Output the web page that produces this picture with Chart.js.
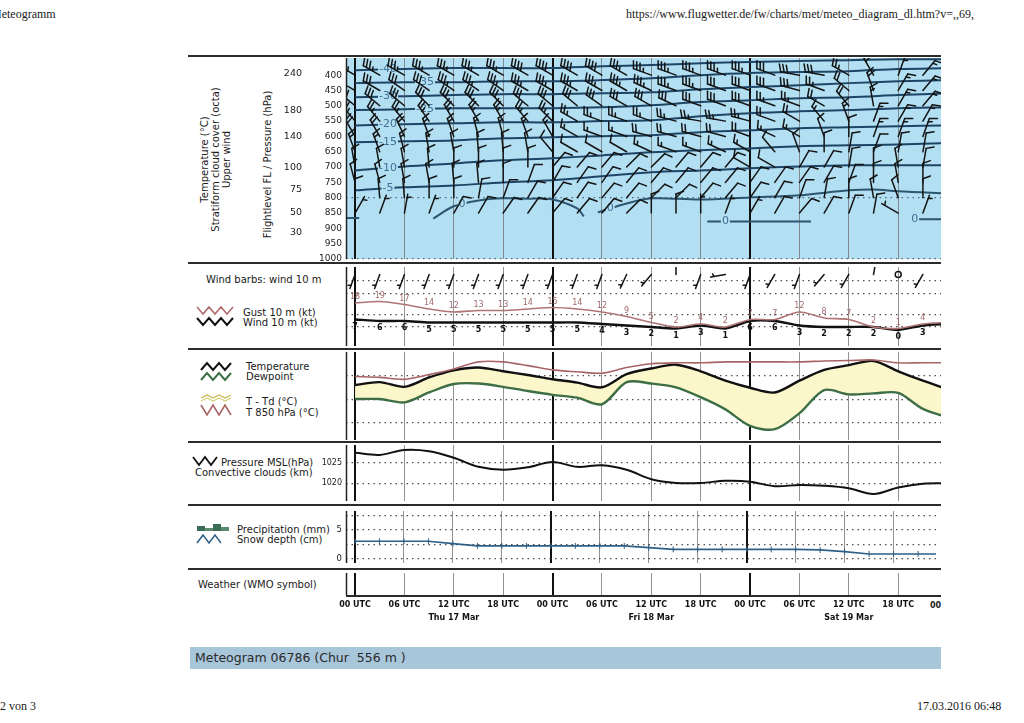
<!DOCTYPE html>
<html>
<head>
<meta charset="utf-8">
<script src="https://cdn.jsdelivr.net/npm/chart.js@4.4.1/dist/chart.umd.min.js"></script>
<style>
body{margin:0;background:#fff;font-family:"DejaVu Sans",sans-serif;color:#1a1a1a;}
#page{position:relative;width:1024px;height:723px;overflow:hidden;}
.t{position:absolute;white-space:nowrap;font-size:10px;line-height:10px;}
.serif{font-family:"Liberation Serif",serif;font-size:12px;line-height:12px;}
.sep{position:absolute;height:2px;background:#2b2b2b;}
canvas{position:absolute;}
svg{position:absolute;}
.rot{position:absolute;text-align:center;font-size:10px;line-height:11px;transform:rotate(-90deg);transform-origin:50% 50%;}
</style>
</head>
<body>
<div id="page">
  <div class="t serif" style="left:-9px;top:8px;">Meteogramm</div>
  <div class="t serif" style="left:626px;top:8px;">https://www.flugwetter.de/fw/charts/met/meteo_diagram_dl.htm?v=,,69,</div>
  <div class="t serif" style="left:0px;top:700px;">2 von 3</div>
  <div class="t serif" style="left:917px;top:700px;">17.03.2016 06:48</div>

  <div class="sep" style="left:188px;top:55px;width:753px;"></div>
  <div class="sep" style="left:188px;top:262px;width:753px;"></div>
  <div class="sep" style="left:188px;top:348px;width:753px;"></div>
  <div class="sep" style="left:188px;top:441px;width:753px;"></div>
  <div class="sep" style="left:188px;top:504px;width:753px;"></div>
  <div class="sep" style="left:188px;top:568px;width:753px;"></div>
  <div class="sep" style="left:346px;top:595px;width:595px;height:1.5px;"></div>

  <div class="rot" style="left:115px;top:143px;width:200px;height:33px;">Temperature (°C)<br>Stratiform cloud cover (octa)<br>Upper wind</div>
  <div class="rot" style="left:187px;top:159px;width:160px;height:11px;">Flightlevel FL / Pressure (hPa)</div>

  <div class="t" style="left:206px;top:275px;">Wind barbs: wind 10 m</div>
  <svg style="left:196px;top:304px" width="40" height="26">
    <polyline points="1,3 7,10 13,3 19,10 25,3 31,10 37,3" stroke="#b06868" fill="none" stroke-width="1.5"/>
    <polyline points="1,14 7,21 13,14 19,21 25,14 31,21 37,14" stroke="#111" fill="none" stroke-width="2"/>
  </svg>
  <div class="t" style="left:243px;top:308px;">Gust 10 m (kt)</div>
  <div class="t" style="left:243px;top:318px;">Wind 10 m (kt)</div>

  <svg style="left:200px;top:361px" width="34" height="58">
    <polyline points="1,9 7,2 13,9 19,2 25,9 31,2" stroke="#111" fill="none" stroke-width="2"/>
    <polyline points="1,19 7,12 13,19 19,12 25,19 31,12" stroke="#3d6e45" fill="none" stroke-width="2"/>
    <polyline points="1,37 7,34 13,37 19,34 25,37 31,34" stroke="#c9b850" fill="none" stroke-width="1.2"/>
    <polyline points="1,40 7,37 13,40 19,37 25,40 31,37" stroke="#d8cf7a" fill="none" stroke-width="1.2"/>
    <polyline points="1,44 7,54 13,44 19,54 25,44 31,54" stroke="#a86464" fill="none" stroke-width="1.6"/>
  </svg>
  <div class="t" style="left:246px;top:362px;">Temperature</div>
  <div class="t" style="left:246px;top:372px;">Dewpoint</div>
  <div class="t" style="left:246px;top:397px;">T - Td (°C)</div>
  <div class="t" style="left:246px;top:408px;">T 850 hPa (°C)</div>

  <svg style="left:192px;top:454px" width="30" height="14">
    <polyline points="1,3 7,11 13,3 19,11 25,3" stroke="#111" fill="none" stroke-width="1.8"/>
  </svg>
  <div class="t" style="left:221px;top:458px;">Pressure MSL(hPa)</div>
  <div class="t" style="left:195px;top:468px;">Convective clouds (km)</div>

  <svg style="left:196px;top:523px" width="36" height="24">
    <rect x="1" y="3" width="8" height="5" fill="#3b6d55"/>
    <rect x="9" y="5" width="8" height="3" fill="#5f8a72"/>
    <rect x="17" y="1" width="8" height="7" fill="#3b6d55"/>
    <rect x="25" y="4" width="8" height="4" fill="#5f8a72"/>
    <polyline points="1,20 7,12 13,20 19,12 25,20" stroke="#2e5f86" fill="none" stroke-width="1.5"/>
  </svg>
  <div class="t" style="left:237px;top:525px;">Precipitation (mm)</div>
  <div class="t" style="left:237px;top:535px;">Snow depth (cm)</div>

  <div class="t" style="left:198px;top:580px;">Weather (WMO symbol)</div>
  <div class="t" style="left:930px;top:601px;font-size:8px;font-weight:bold;">00</div>

  <div style="position:absolute;left:190px;top:647px;width:751px;height:22px;background:#a8c6da;"></div>
  <div class="t" style="left:195px;top:651px;font-size:12.5px;line-height:14px;color:#2a2a2a;white-space:pre;">Meteogram 06786 (Chur  556 m )</div>

  <canvas id="upper" width="753" height="213" style="left:188px;top:52px;"></canvas>
  <canvas id="wind" width="753" height="79" style="left:188px;top:267px;"></canvas>
  <canvas id="temp" width="753" height="88" style="left:188px;top:352px;"></canvas>
  <canvas id="pres" width="753" height="56" style="left:188px;top:445px;"></canvas>
  <canvas id="prec" width="753" height="62" style="left:188px;top:506px;"></canvas>
  <canvas id="wx" width="753" height="67" style="left:188px;top:573px;"></canvas>
</div>
<script>
Chart.defaults.font.family = 'DejaVu Sans';
Chart.defaults.animation = false;

// time axis, hours after Thu 17 Mar 00 UTC
var xMin = -1.1, xMax = 71.2;
var tickHours = [0,6,12,18,24,30,36,42,48,54,60,66];
var tickText = ['00 UTC','06 UTC','12 UTC','18 UTC','00 UTC','06 UTC','12 UTC','18 UTC','00 UTC','06 UTC','12 UTC','18 UTC'];
var dayHours = [12,36,60];
var dayText = ['Thu 17 Mar','Fri 18 Mar','Sat 19 Mar'];
var hours3 = [0,3,6,9,12,15,18,21,24,27,30,33,36,39,42,45,48,51,54,57,60,63,66,69,72];
var hours6 = [0,6,12,18,24,30,36,42,48,54,60,66,72];

// upper panel: pressure / flight level ticks
var pressTicks = [400,450,500,550,600,650,700,750,800,850,900,950,1000];
var flLabels = [240,180,140,100,75,50,30];
var flPress = [394,517,601,702,773,848,913];

// isotherms (pressure of each isotherm at hours6)
var isoTemps = [-40,-35,-30,-25,-20,-15,-10,-5];
var isoM40 = [384,380,377,377,377,371,367,361,357,354,351,348,348];
var isoM35 = [426,423,423,420,420,416,410,400,393,390,387,380,377];
var isoM30 = [472,469,465,462,462,459,456,446,439,433,426,420,416];
var isoM25 = [514,511,508,508,508,505,498,488,482,475,472,465,459];
var isoM20 = [564,560,557,554,554,550,547,534,524,518,514,508,505];
var isoM15 = [619,616,613,606,603,599,596,586,580,573,570,567,564];
var isoM10 = [711,698,688,678,671,662,652,645,639,632,629,626,622];
var isoM5 = [776,766,760,750,743,730,717,711,704,698,694,694,694];
var isoLabelHours = [4,8.5,4,8.5,4,4,4,4];
var zeroUpHours = [9.5,12,15,18,21,24,27,27.8,28.6,29.5,33,36,42,48,54,60,63,66,72];
var zeroUpPress = [868,828,809,802,803,806,835,861,null,848,819,802,806,799,792,776,773,779,786];
var zeroLowHours = [-1.1,0.5,20,42.8,55.4,60,67.6,72];
var zeroLowPress = [866,866,null,878,878,null,870,870];
var zeroUpLabelHours = [13,31];
var zeroLowLabelHours = [45,68];

// upper winds, every 3 h from 0 to 69 h
var barbHours = [0,3,6,9,12,15,18,21,24,27,30,33,36,39,42,45,48,51,54,57,60,63,66,69];
var barbLevels = [400,450,500,550,600,650,700,750,800,850];
var dir400 = [300,300,300,300,300,300,300,300,300,300,300,300,290,290,290,290,290,290,280,280,300,330,20,40];
var spd400 = [35,35,35,35,35,35,35,40,40,40,40,35,35,35,35,35,35,30,30,30,25,20,15,15];
var dir450 = [300,300,305,305,305,305,305,300,300,300,300,300,295,290,290,290,290,290,285,290,310,340,30,40];
var spd450 = [30,30,30,30,35,35,35,35,35,35,35,35,35,35,35,30,30,30,30,25,20,20,15,15];
var dir500 = [310,310,310,315,315,315,315,310,310,310,305,300,300,295,290,290,290,290,290,300,320,350,30,40];
var spd500 = [30,30,30,30,30,30,30,30,30,30,30,30,30,30,30,30,30,25,25,20,20,15,15,15];
var dir550 = [320,320,320,325,330,330,330,320,315,300,290,290,290,285,280,280,285,290,300,320,340,20,30,30];
var spd550 = [25,25,25,25,25,25,25,25,25,25,25,25,25,25,25,25,25,20,20,15,15,15,15,15];
var dir600 = [330,330,335,340,340,345,345,340,330,300,290,290,285,285,285,285,290,295,300,340,0,20,20,20];
var spd600 = [20,20,20,15,15,15,15,15,15,15,15,15,20,20,20,20,20,15,15,10,10,15,15,15];
var dir650 = [340,340,345,350,350,355,355,350,320,300,300,300,295,290,290,295,300,320,340,0,10,20,10,10];
var spd650 = [15,15,15,15,10,10,10,10,10,10,10,10,15,15,15,15,15,10,10,10,10,10,10,10];
var dir700 = [350,350,350,355,0,0,0,0,40,40,40,45,45,40,40,40,300,300,30,30,10,0,350,10];
var spd700 = [10,10,10,10,10,10,10,10,10,10,10,10,10,10,10,10,10,10,10,10,10,10,10,10];
var dir750 = [345,345,350,350,355,355,0,20,30,35,35,40,40,40,40,40,35,35,35,30,20,0,350,0];
var spd750 = [10,10,10,10,10,10,10,10,10,10,10,10,10,10,10,10,10,10,10,10,10,10,10,10];
var dir800 = [0,355,355,0,0,10,20,30,35,35,40,40,45,45,40,40,35,30,20,10,0,350,340,0];
var spd800 = [10,10,10,10,10,10,10,10,10,10,10,10,10,10,10,10,10,10,10,10,10,10,10,10];
var dir850 = [30,20,10,20,30,30,35,35,40,40,40,45,0,0,0,20,30,30,40,30,20,10,300,20];
var spd850 = [5,5,5,5,10,10,10,10,10,10,10,10,10,10,5,5,5,10,10,10,10,10,5,5];

// 10 m wind (kt), every 3 h
var wind10 = [7,6,6,5,5,5,5,5,5,5,4,3,2,1,3,1,6,6,3,2,2,2,0,3,4];
var gust10 = [18,19,17,14,12,13,13,14,15,14,12,9,5,2,4,2,7,7,12,8,7,2,1,4,5];
var dir10 = [200,200,200,200,200,200,200,200,200,200,200,205,220,0,200,260,200,210,200,220,210,10,0,210,210];
var barbRow10 = 37;
var windGrid = [2,10,24,33];

// temperatures (°C), every 3 h
var t850 = [-0.1,-0.3,-0.7,0.3,1.5,3.0,3.0,2.2,1.3,0.9,0.6,1.8,2.6,2.8,2.8,3.0,3.0,3.0,3.0,3.2,3.3,3.4,2.8,2.8,2.8];
var temp2m = [-1.9,-1.3,-2.3,-0.3,1.2,1.8,1.0,0.2,-0.7,-1.4,-2.4,0.4,1.6,2.4,1.0,-1.0,-2.5,-3.5,-1.0,1.3,2.3,3.2,1.0,-1.0,-2.8];
var dewp2m = [-4.9,-4.9,-5.6,-3.5,-1.7,-1.6,-2.3,-3.2,-4.0,-4.6,-6.0,-1.3,-1.6,-2.4,-4.5,-7.1,-10.6,-11.3,-7.9,-3.0,-3.9,-3.7,-3.6,-7.0,-8.8];
var tempGrid = [0,-5,-10];

// MSL pressure (hPa), every 3 h
var pmsl = [1027.4,1026.9,1028.1,1027.8,1026.2,1024.0,1023.3,1023.9,1025.2,1024.0,1024.4,1023.3,1021.0,1020.1,1020.1,1020.6,1020.4,1019.3,1019.6,1019.4,1018.8,1017.4,1019.0,1019.9,1020.0];
var presTicks = [1020,1025];

// snow depth (cm), precipitation none
var snow = [3.0,3.0,3.0,3.0,2.6,2.2,2.2,2.2,2.2,2.2,2.2,2.2,1.9,1.6,1.6,1.6,1.6,1.6,1.6,1.5,1.2,0.8,0.8,0.8,0.8];
var precGrid = [0,2.5,5,7.5];
var precLabels = [0,5];

function pts(xs, ys){
    var out = [];
    for (var i = 0; i < xs.length; i++) out.push({x: xs[i], y: ys[i]});
    return out;
}
function interp(hs, ps, h){
    for (var k = 0; k < hs.length - 1; k++) {
        if (h >= hs[k] && h <= hs[k+1] && ps[k] != null && ps[k+1] != null) {
            return ps[k] + (ps[k+1] - ps[k]) * (h - hs[k]) / (hs[k+1] - hs[k]);
        }
    }
    return null;
}

// solid left edge of each panel
var leftEdge = {
    id: 'leftEdge',
    afterDraw: function(chart){
        var a = chart.chartArea, ctx = chart.ctx;
        ctx.save();
        ctx.strokeStyle = '#222';
        ctx.lineWidth = 1.5;
        ctx.beginPath();
        ctx.moveTo(a.left + 0.5, a.top);
        ctx.lineTo(a.left + 0.5, a.bottom);
        ctx.stroke();
        ctx.restore();
    }
};
Chart.register(leftEdge);

function xAxis(showTicks){
    return {
        type: 'linear', min: xMin, max: xMax,
        afterBuildTicks: function(ax){ ax.ticks = tickHours.map(function(v){ return {value: v}; }); },
        afterFit: function(ax){ ax.paddingLeft = 0; ax.paddingRight = 0; if (showTicks) ax.height = 45; },
        ticks: {
            display: showTicks, autoSkip: false, maxRotation: 0, padding: 3, color: '#111',
            font: {size: 8, weight: 'bold', lineHeight: 1.7},
            callback: function(v){
                var i = tickHours.indexOf(v), d = dayHours.indexOf(v);
                return d >= 0 ? [tickText[i], dayText[d]] : tickText[i];
            }
        },
        grid: {
            drawTicks: false,
            color: function(c){ return c.tick && c.tick.value % 24 === 0 ? '#111' : 'rgba(110,110,110,0.75)'; },
            lineWidth: function(c){ return c.tick && c.tick.value % 24 === 0 ? 2 : 1; }
        },
        border: {display: false}
    };
}
function yAxis(min, max, tickVals, labelFn, fontSize, reverse){
    return {
        type: 'linear', min: min, max: max, reverse: !!reverse,
        afterBuildTicks: function(ax){ ax.ticks = tickVals.map(function(v){ return {value: v}; }); },
        afterFit: function(ax){ ax.width = 158; ax.paddingTop = 0; ax.paddingBottom = 0; },
        ticks: {
            display: !!labelFn, padding: 4, color: '#222', font: {size: fontSize || 9},
            callback: labelFn || function(){ return ''; }
        },
        grid: {drawTicks: false, color: 'rgba(60,60,60,0.9)', lineWidth: 1.2},
        border: {display: false, dash: [1.5, 4]}
    };
}

function drawBarb(ctx, px, py, dir, spd, len, flen){
    ctx.save();
    ctx.strokeStyle = '#141414';
    ctx.fillStyle = '#141414';
    ctx.lineWidth = 1.5;
    ctx.lineCap = 'round';
    if (spd < 0.5) {
        ctx.beginPath();
        ctx.arc(px, py, 3, 0, 2 * Math.PI);
        ctx.stroke();
        ctx.restore();
        return;
    }
    var a = dir * Math.PI / 180;
    var ux = Math.sin(a), uy = -Math.cos(a);
    var f = a + 70 * Math.PI / 180;
    var fx = Math.sin(f), fy = -Math.cos(f);
    var tx = px + ux * len, ty = py + uy * len;
    ctx.beginPath();
    ctx.moveTo(px, py);
    ctx.lineTo(tx, ty);
    ctx.stroke();
    var r = Math.round(spd / 5) * 5;
    if (r === 0) r = 5;
    var pennants = Math.floor(r / 50);
    var full = Math.floor((r % 50) / 10);
    var half = (r % 10) >= 5;
    var pos = len, step = 3.5;
    for (var p = 0; p < pennants; p++) {
        ctx.beginPath();
        ctx.moveTo(px + ux * pos, py + uy * pos);
        ctx.lineTo(px + ux * pos + fx * flen, py + uy * pos + fy * flen);
        ctx.lineTo(px + ux * (pos - 5), py + uy * (pos - 5));
        ctx.fill();
        pos -= 6;
    }
    for (var k = 0; k < full; k++) {
        ctx.beginPath();
        ctx.moveTo(px + ux * pos, py + uy * pos);
        ctx.lineTo(px + ux * pos + fx * flen, py + uy * pos + fy * flen);
        ctx.stroke();
        pos -= step;
    }
    if (half) {
        if (pennants === 0 && full === 0) pos -= step;
        ctx.beginPath();
        ctx.moveTo(px + ux * pos, py + uy * pos);
        ctx.lineTo(px + ux * pos + fx * flen / 2, py + uy * pos + fy * flen / 2);
        ctx.stroke();
    }
    ctx.restore();
}

function clipArea(ctx, a){
    ctx.beginPath();
    ctx.rect(a.left, a.top, a.right - a.left, a.bottom - a.top);
    ctx.clip();
}

var isoSeries = [isoM40, isoM35, isoM30, isoM25, isoM20, isoM15, isoM10, isoM5];
var upperDir = [dir400, dir450, dir500, dir550, dir600, dir650, dir700, dir750, dir800, dir850];
var upperSpd = [spd400, spd450, spd500, spd550, spd600, spd650, spd700, spd750, spd800, spd850];

var upperPlugin = {
    id: 'upperExtras',
    beforeDraw: function(chart){
        var a = chart.chartArea, ctx = chart.ctx;
        ctx.save();
        ctx.fillStyle = '#b3dff2';
        ctx.fillRect(a.left, a.top, a.right - a.left, a.bottom - a.top);
        ctx.restore();
    },
    afterDatasetsDraw: function(chart){
        var ctx = chart.ctx, xs = chart.scales.x, ys = chart.scales.y, a = chart.chartArea;
        // flight levels, left of the pressure ticks
        ctx.save();
        ctx.font = '9.5px "DejaVu Sans"';
        ctx.fillStyle = '#222';
        ctx.textAlign = 'right';
        ctx.textBaseline = 'middle';
        for (var f = 0; f < flLabels.length; f++) {
            ctx.fillText(String(flLabels[f]), a.left - 44, ys.getPixelForValue(flPress[f]));
        }
        ctx.restore();

        ctx.save();
        clipArea(ctx, a);
        ctx.font = '11px "DejaVu Sans"';
        ctx.textAlign = 'center';
        ctx.textBaseline = 'middle';
        function isoLabel(txt, h, p){
            if (p == null) return;
            var x = xs.getPixelForValue(h), y = ys.getPixelForValue(p);
            var w = ctx.measureText(txt).width + 2;
            ctx.fillStyle = '#b3dff2';
            ctx.fillRect(x - w / 2, y - 6, w, 12);
            ctx.fillStyle = '#3f6f94';
            ctx.fillText(txt, x, y);
        }
        for (var i = 0; i < isoTemps.length; i++) {
            isoLabel(String(isoTemps[i]), isoLabelHours[i], interp(hours6, isoSeries[i], isoLabelHours[i]));
        }
        zeroUpLabelHours.forEach(function(h){ isoLabel('0', h, interp(zeroUpHours, zeroUpPress, h)); });
        zeroLowLabelHours.forEach(function(h){ isoLabel('0', h, interp(zeroLowHours, zeroLowPress, h)); });

        for (var l = 0; l < barbLevels.length; l++) {
            for (var j = 0; j < barbHours.length; j++) {
                drawBarb(ctx, xs.getPixelForValue(barbHours[j]), ys.getPixelForValue(barbLevels[l]),
                    upperDir[l][j], upperSpd[l][j], 19, 8);
            }
        }
        ctx.restore();
    }
};

var isoDatasets = isoSeries.map(function(s){
    return {data: pts(hours6, s), borderColor: '#1e4466', borderWidth: 2, pointRadius: 0, tension: 0.35};
});
isoDatasets.push({data: pts(zeroUpHours, zeroUpPress), borderColor: '#2d5570', borderWidth: 2, pointRadius: 0, tension: 0.35, spanGaps: false});
isoDatasets.push({data: pts(zeroLowHours, zeroLowPress), borderColor: '#2d5570', borderWidth: 2, pointRadius: 0, tension: 0, spanGaps: false});

var upperY = yAxis(344, 1000, pressTicks, function(v){ return String(v); }, 9, true);
upperY.grid.color = function(c){ return c.tick && (c.tick.value === 800 || c.tick.value === 1000) ? 'rgba(70,90,105,0.9)' : 'rgba(0,0,0,0)'; };

new Chart(document.getElementById('upper'), {
    type: 'line',
    data: {datasets: isoDatasets},
    options: {
        responsive: false,
        layout: {padding: {top: 6, bottom: 6, left: 0, right: 0}},
        plugins: {legend: {display: false}, tooltip: {enabled: false}},
        scales: {x: xAxis(false), y: upperY}
    },
    plugins: [upperPlugin]
});

// 10 m wind panel
var windPlugin = {
    id: 'windExtras',
    afterDatasetsDraw: function(chart){
        var ctx = chart.ctx, xs = chart.scales.x, ys = chart.scales.y, a = chart.chartArea;
        ctx.save();
        clipArea(ctx, a);
        ctx.textAlign = 'center';
        ctx.textBaseline = 'middle';
        for (var i = 0; i < hours3.length; i++) {
            var x = xs.getPixelForValue(hours3[i]);
            if (x > a.right - 2) continue;
            ctx.font = '8px "DejaVu Sans"';
            ctx.fillStyle = '#a06a6a';
            ctx.fillText(String(gust10[i]), x, ys.getPixelForValue(gust10[i]) - 6);
            ctx.font = 'bold 8px "DejaVu Sans"';
            ctx.fillStyle = '#111';
            ctx.fillText(String(wind10[i]), x, ys.getPixelForValue(wind10[i]) + 7);
            drawBarb(ctx, x, ys.getPixelForValue(barbRow10), dir10[i], wind10[i], 15, 6);
        }
        ctx.restore();
    }
};
new Chart(document.getElementById('wind'), {
    type: 'line',
    data: {datasets: [
        {data: pts(hours3, gust10), borderColor: '#b07474', borderWidth: 1.6, pointRadius: 0, tension: 0.25},
        {data: pts(hours3, wind10), borderColor: '#111', borderWidth: 2.4, pointRadius: 0, tension: 0.25}
    ]},
    options: {
        responsive: false,
        layout: {padding: 0},
        plugins: {legend: {display: false}, tooltip: {enabled: false}},
        scales: {x: xAxis(false), y: yAxis(-10.7, 42, windGrid, null)}
    },
    plugins: [windPlugin]
});

// temperature panel
new Chart(document.getElementById('temp'), {
    type: 'line',
    data: {datasets: [
        {data: pts(hours3, t850), borderColor: '#a86464', borderWidth: 1.6, pointRadius: 0, tension: 0.3},
        {data: pts(hours3, temp2m), borderColor: '#111', borderWidth: 2.4, pointRadius: 0, tension: 0.3},
        {data: pts(hours3, dewp2m), borderColor: '#3d6e45', borderWidth: 2.4, pointRadius: 0, tension: 0.3,
            fill: '-1', backgroundColor: '#fbf7cb'}
    ]},
    options: {
        responsive: false,
        layout: {padding: 0},
        plugins: {legend: {display: false}, tooltip: {enabled: false}},
        scales: {x: xAxis(false), y: yAxis(-13.6, 5.1, tempGrid, null)}
    }
});

// pressure panel
new Chart(document.getElementById('pres'), {
    type: 'line',
    data: {datasets: [
        {data: pts(hours3, pmsl), borderColor: '#111', borderWidth: 2, pointRadius: 0, tension: 0.35}
    ]},
    options: {
        responsive: false,
        layout: {padding: 0},
        plugins: {legend: {display: false}, tooltip: {enabled: false}},
        scales: {x: xAxis(false), y: yAxis(1015.7, 1029.3, presTicks, function(v){ return String(v); }, 8)}
    }
});

// precipitation / snow panel
var precY = yAxis(-0.78, 8.28, precGrid, function(v){ return precLabels.indexOf(v) >= 0 ? String(v) : ''; }, 8.5);
new Chart(document.getElementById('prec'), {
    type: 'line',
    data: {datasets: [
        {data: pts(hours3, snow), borderColor: '#2e5f86', borderWidth: 1.6, tension: 0,
            pointStyle: 'line', rotation: 90, pointRadius: 3, pointBorderColor: '#2e5f86', pointBorderWidth: 1}
    ]},
    options: {
        responsive: false,
        layout: {padding: {top: 2, bottom: 2, left: 0, right: 0}},
        plugins: {legend: {display: false}, tooltip: {enabled: false}},
        scales: {x: xAxis(false), y: precY}
    }
});

// weather row with the time axis
var wxY = yAxis(0, 1, [], null);
wxY.grid.display = false;
new Chart(document.getElementById('wx'), {
    type: 'line',
    data: {datasets: []},
    options: {
        responsive: false,
        layout: {padding: 0},
        plugins: {legend: {display: false}, tooltip: {enabled: false}},
        scales: {x: xAxis(true), y: wxY}
    }
});
</script>
</body>
</html>
